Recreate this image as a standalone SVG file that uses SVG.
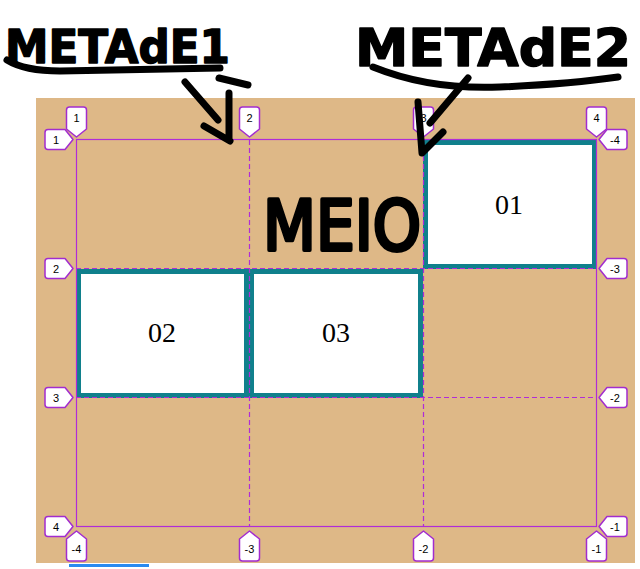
<svg xmlns="http://www.w3.org/2000/svg" width="640" height="569" viewBox="0 0 640 569">
<style>
.item{fill:#fff;stroke:#10808c;stroke-width:5}
.itxt{font-family:"Liberation Serif",serif;font-size:28px;fill:#000;text-anchor:middle}
.gl{stroke:#b02cd8;stroke-width:1.2;fill:none}
.gd{stroke:#b02cd8;stroke-width:1.2;fill:none;stroke-dasharray:5 3}
.badge{fill:#fff;stroke:#a22ccf;stroke-width:1.5;stroke-linejoin:round}
.btxt{font-family:"Liberation Sans",Arial,sans-serif;font-size:11px;fill:#000;text-anchor:middle}
.ink{fill:none;stroke:#000;stroke-width:7;stroke-linecap:round;stroke-linejoin:round}
.hand{font-family:"DejaVu Sans",sans-serif;fill:#000;stroke:#000;stroke-linejoin:round}
</style>
<defs>
<path id="bt" d="M0,0 L-10,-8 V-27 Q-10,-30 -7,-30 H7 Q10,-30 10,-27 V-8 Z"/>
<path id="bb" d="M0,0 L-10,8 V27 Q-10,30 -7,30 H7 Q10,30 10,27 V8 Z"/>
<path id="bl" d="M0,0 L-8,-10 H-25 Q-28,-10 -28,-7 V7 Q-28,10 -25,10 H-8 Z"/>
<path id="br" d="M0,0 L8,-10 H25 Q28,-10 28,-7 V7 Q28,10 25,10 H8 Z"/>
</defs>
<rect width="640" height="569" fill="#fff"/>
<rect x="36" y="98" width="599" height="465" fill="#deb887"/>
<rect x="69" y="564" width="80" height="3" fill="#2a8af0"/>

<g id="item01"><rect class="item" x="425.5" y="142.5" width="169" height="124"/><text class="itxt" x="509" y="214">01</text></g>
<g id="item02"><rect class="item" x="78.5" y="271.5" width="168" height="124"/><text class="itxt" x="162" y="342">02</text></g>
<g id="item03"><rect class="item" x="251.5" y="271.5" width="169" height="124"/><text class="itxt" x="336" y="342">03</text></g>

<g id="grid">
<rect class="gl" x="76.5" y="139.5" width="520" height="387"/>
<path class="gd" d="M249.5,140 V526 M423.5,140 V526 M76,268.5 H597 M76,397.5 H597"/>
</g>

<g id="badges">
<use href="#bt" class="badge" x="76.5" y="137"/><text class="btxt" x="76.5" y="122">1</text>
<use href="#bt" class="badge" x="249.5" y="137"/><text class="btxt" x="249.5" y="122">2</text>
<use href="#bt" class="badge" x="423.5" y="137"/><text class="btxt" x="423.5" y="122">3</text>
<use href="#bt" class="badge" x="596.5" y="137"/><text class="btxt" x="596.5" y="122">4</text>
<use href="#bb" class="badge" x="76.5" y="531"/><text class="btxt" x="76.5" y="553">-4</text>
<use href="#bb" class="badge" x="249.5" y="531"/><text class="btxt" x="249.5" y="553">-3</text>
<use href="#bb" class="badge" x="423.5" y="531"/><text class="btxt" x="423.5" y="553">-2</text>
<use href="#bb" class="badge" x="596.5" y="531"/><text class="btxt" x="596.5" y="553">-1</text>
<use href="#bl" class="badge" x="73" y="139.5"/><text class="btxt" x="56" y="143.5">1</text>
<use href="#bl" class="badge" x="73" y="268.5"/><text class="btxt" x="56" y="272.5">2</text>
<use href="#bl" class="badge" x="73" y="397.5"/><text class="btxt" x="56" y="401.5">3</text>
<use href="#bl" class="badge" x="73" y="526.5"/><text class="btxt" x="56" y="530.5">4</text>
<use href="#br" class="badge" x="599" y="139.5"/><text class="btxt" x="615" y="143.5">-4</text>
<use href="#br" class="badge" x="599" y="268.5"/><text class="btxt" x="615" y="272.5">-3</text>
<use href="#br" class="badge" x="599" y="397.5"/><text class="btxt" x="615" y="401.5">-2</text>
<use href="#br" class="badge" x="599" y="526.5"/><text class="btxt" x="615" y="530.5">-1</text>
</g>

<g id="annotations">
<text class="hand" x="5" y="63" font-size="47" style="font-weight:bold" stroke-width="1.5" textLength="225" lengthAdjust="spacingAndGlyphs">METAdE1</text>
<text class="hand" x="355" y="66" font-size="52" style="font-weight:bold" stroke-width="1.5" textLength="276" lengthAdjust="spacingAndGlyphs">METAdE2</text>
<text class="hand" x="263" y="250" font-size="70" style="font-weight:normal" stroke-width="4" textLength="158" lengthAdjust="spacingAndGlyphs">MEIO</text>
</g>

<g id="connectors">
<path class="ink" d="M7,60 C20,68 40,71 60,71 L220,68"/>
<path class="ink" d="M219,78 L248,85"/>
<path class="ink" d="M185,82 L218,120 M229,93 L229,140 M204,126 L230,141"/>
<path class="ink" d="M373,67 Q430,90 500,87 Q570,84 618,77"/>
<path class="ink" d="M468,78 L430,123 M418,102 L422,153 L443,132"/>
</g>
</svg>
